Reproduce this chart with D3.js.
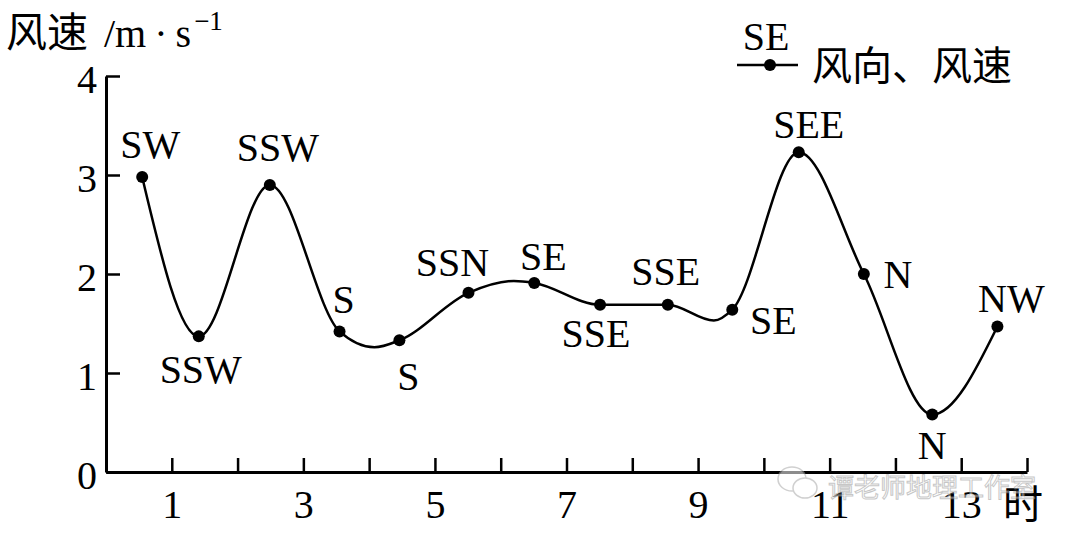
<!DOCTYPE html>
<html>
<head>
<meta charset="utf-8">
<script src="https://cdn.jsdelivr.net/npm/d3@7"></script>
<style>
  body { margin: 0; background: #fff; }
  svg { display: block; }
  .serif { font-family: "Liberation Serif", "DejaVu Serif", serif; }
  .cjk { font-family: "Noto Sans CJK SC", sans-serif; }
</style>
</head>
<body>
<div id="chart"></div>
<script>
// data
const hours = [0.55, 1.41, 2.49, 3.55, 4.46, 5.51, 6.51, 7.51, 8.54, 9.52, 10.53, 11.52, 12.56, 13.55];
const speeds = [2.98, 1.37, 2.90, 1.42, 1.33, 1.81, 1.91, 1.69, 1.69, 1.64, 3.23, 2.00, 0.58, 1.47];
const directions = ["SW", "SSW", "SSW", "S", "S", "SSN", "SE", "SSE", "SSE", "SE", "SEE", "N", "N", "NW"];
// turning points of the curve that fall between the dots
const bendHours = [4.08, 6.2, 9.24];
const bendSpeeds = [1.26, 1.93, 1.53];
const xTicks = [1, 2, 3, 4, 5, 6, 7, 8, 9, 10, 11, 12, 13, 14];
const xLabels = [1, 3, 5, 7, 9, 11, 13];
const yTicks = [0, 1, 2, 3, 4];

// label placement around each dot (dx, dy to text baseline centre)
const labelPlace = [[8,-19],[2,47],[8,-24],[4,-18],[9,50],[-16,-17],[9,-13],[-4,42],[-2,-20],[41,24],[10,-14],[34,14],[0,44],[14,-14]];

const width = 1080, height = 533;

const svg = d3.select("#chart").append("svg")
    .attr("width", width)
    .attr("height", height);

const x = d3.scaleLinear().domain([0, 14]).range([106, 1027]);
const y = d3.scaleLinear().domain([0, 4]).range([472, 76]);

// x axis
const xAxis = svg.append("g")
    .attr("transform", `translate(0,${y(0)})`)
    .call(d3.axisBottom(x).tickValues(xTicks).tickSize(-14).tickSizeOuter(0).tickPadding(18)
        .tickFormat(d => xLabels.includes(d) ? d : ""));

// y axis
const yAxis = svg.append("g")
    .attr("transform", `translate(${x(0)},0)`)
    .call(d3.axisLeft(y).tickValues(yTicks).tickSize(-14).tickSizeOuter(0).tickPadding(9)
        .tickFormat(d => d));

[xAxis, yAxis].forEach(g => {
    g.select(".domain").attr("stroke", "#000").attr("stroke-width", 3);
    g.selectAll(".tick line").attr("stroke", "#000").attr("stroke-width", 2.5);
    g.selectAll(".tick text").attr("class", "serif").attr("fill", "#000").style("font-size", "40px");
});
yAxis.selectAll(".tick text").attr("dy", "0.42em");

// unit labels
const title = svg.append("text").attr("x", 6).attr("y", 47).attr("fill", "#000");
title.append("tspan").attr("class", "cjk").style("font-size", "41px").text("风速");
title.append("tspan").attr("class", "serif").style("font-size", "40px").attr("dx", 16).text("/m");
title.append("tspan").attr("class", "serif").style("font-size", "40px").attr("dx", 8).text("·");
title.append("tspan").attr("class", "serif").style("font-size", "40px").attr("dx", 8).text("s");
title.append("tspan").attr("class", "serif").style("font-size", "27px").attr("dx", 3).attr("dy", -17).text("−1");

svg.append("text").attr("class", "cjk")
    .attr("x", 1003).attr("y", 519)
    .style("font-size", "40px").attr("fill", "#000").text("时");

// curve: dots plus bends, sorted by hour
const knots = hours.map((h, i) => [h, speeds[i]])
    .concat(bendHours.map((h, i) => [h, bendSpeeds[i]]))
    .sort((a, b) => a[0] - b[0]);

svg.append("path")
    .datum(knots)
    .attr("fill", "none")
    .attr("stroke", "#000")
    .attr("stroke-width", 2.5)
    .attr("d", d3.line()
        .x(d => x(d[0]))
        .y(d => y(d[1]))
        .curve(d3.curveMonotoneX));

svg.append("g").selectAll("circle")
    .data(hours)
    .enter().append("circle")
    .attr("cx", d => x(d))
    .attr("cy", (d, i) => y(speeds[i]))
    .attr("r", 6)
    .attr("fill", "#000");

svg.append("g").selectAll("text")
    .data(directions)
    .enter().append("text")
    .attr("class", "serif")
    .attr("x", (d, i) => x(hours[i]) + labelPlace[i][0])
    .attr("y", (d, i) => y(speeds[i]) + labelPlace[i][1])
    .attr("text-anchor", "middle")
    .style("font-size", "40px")
    .attr("fill", "#000")
    .text(d => d);

// legend
const legend = svg.append("g");
legend.append("text").attr("class", "serif")
    .attr("x", 766).attr("y", 50).attr("text-anchor", "middle")
    .style("font-size", "40px").attr("fill", "#000").text("SE");
legend.append("line")
    .attr("x1", 737).attr("x2", 798).attr("y1", 65).attr("y2", 65)
    .attr("stroke", "#000").attr("stroke-width", 2.5);
legend.append("circle").attr("cx", 770).attr("cy", 65).attr("r", 6).attr("fill", "#000");
legend.append("text").attr("class", "cjk")
    .attr("x", 812).attr("y", 80)
    .style("font-size", "40px").attr("fill", "#000").text("风向、风速");

// watermark
const wm = svg.append("g").attr("opacity", 0.55);
wm.append("ellipse").attr("cx", 792).attr("cy", 479).attr("rx", 14).attr("ry", 12)
    .attr("fill", "#fff").attr("stroke", "#aaa").attr("stroke-width", 1.5);
wm.append("ellipse").attr("cx", 805).attr("cy", 488).attr("rx", 12).attr("ry", 10)
    .attr("fill", "#fff").attr("stroke", "#aaa").attr("stroke-width", 1.5);
wm.append("text").attr("class", "cjk")
    .attr("x", 828).attr("y", 497)
    .style("font-size", "26px").attr("fill", "#fff")
    .attr("stroke", "#999").attr("stroke-width", 1)
    .text("谭老师地理工作室");
</script>
</body>
</html>
